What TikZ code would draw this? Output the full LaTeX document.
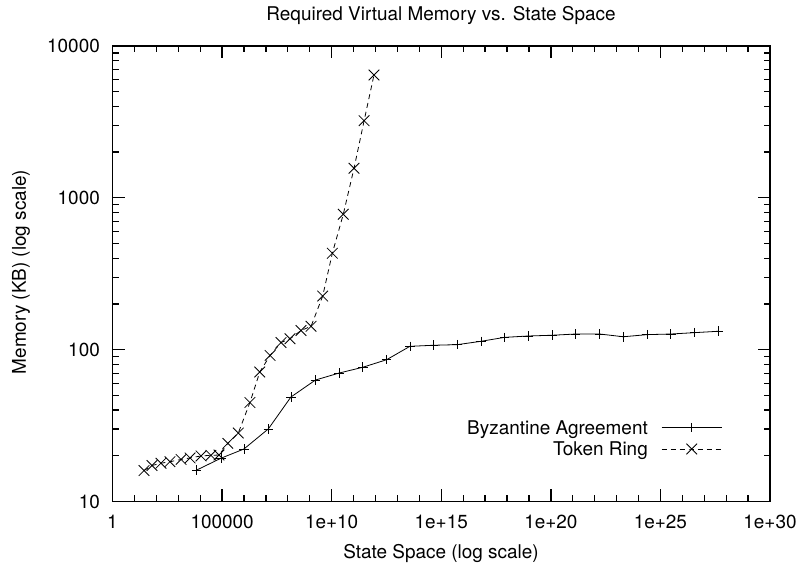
\documentclass[tikz,border=0pt]{standalone}
\usepackage{fontspec}
\setmainfont{TeX Gyre Heros}
\usetikzlibrary{positioning}

\tikzset{
  frame/.style={draw, line width=1.3bp},
  baline/.style={draw, line width=0.8bp, mark=+, mark size=4.8bp},
  trline/.style={draw, line width=0.8bp, dash pattern=on 5bp off 4bp, mark=x, mark size=7.5bp, mark options={solid}},
  ticklabel/.style={inner sep=0pt}
}

\begin{document}
\begin{tikzpicture}[x=1bp, y=1bp, font=\fontsize{19}{23}\selectfont]

        \useasboundingbox (-112.5,-63.5) rectangle (688.5,501.5);

        % plot area: 30 decades across, 10 to 10000 up
        \begin{scope}[x=21.917bp, y=151.83bp, yshift=-151.83bp]

        \foreach \d in {0,...,30} {
          \path[frame] (\d,1) -- ++(0,6bp);
          \path[frame] (\d,4) -- ++(0,-6bp);
        }
        \foreach \d in {0,5,...,30} {
          \path[frame] (\d,1) -- ++(0,12bp);
          \path[frame] (\d,4) -- ++(0,-12bp);
        }
        \foreach \e in {1,2,3} {
          \foreach \k in {2,...,9} {
            \pgfmathsetmacro{\ly}{\e+log10(\k)}
            \path[frame] (0,\ly) -- ++(6bp,0);
            \path[frame] (30,\ly) -- ++(-6bp,0);
          }
        }
        \foreach \e in {1,2,3,4} {
          \path[frame] (0,\e) -- ++(12bp,0);
          \path[frame] (30,\e) -- ++(-12bp,0);
        }

        \path[frame] (0,1) rectangle (30,4);

        \foreach \d/\lab in {0/1, 5/100000, 10/1e+10, 15/1e+15, 20/1e+20, 25/1e+25, 30/1e+30}
          \node[ticklabel, anchor=base] (xt\d) at ([yshift=-26.8bp]\d,1) {\lab};
        \foreach \e/\lab in {1/10, 2/100, 3/1000, 4/10000}
          \node[ticklabel, anchor=east] (yt\e) at ([xshift=-12.5bp]0,\e) {\lab};

        % Byzantine Agreement
        \path[baline] plot coordinates {
          (3.84,1.207) (4.95,1.285) (6.00,1.346) (7.11,1.478) (8.14,1.688)
          (9.26,1.800) (10.34,1.846) (11.42,1.884) (12.51,1.934) (13.57,2.022)
          (14.65,2.029) (15.73,2.033) (16.81,2.055) (17.89,2.081) (18.97,2.090)
          (20.07,2.095) (21.13,2.103) (22.23,2.103) (23.31,2.085) (24.39,2.099)
          (25.47,2.103) (26.55,2.112) (27.63,2.121)};

        % Token Ring
        \path[trline] plot coordinates {
          (1.44,1.204) (1.80,1.237) (2.21,1.252) (2.62,1.262) (3.13,1.277)
          (3.54,1.287) (4.04,1.300) (4.49,1.304) (4.86,1.306) (5.26,1.383)
          (5.74,1.451) (6.27,1.652) (6.72,1.853) (7.19,1.962) (7.69,2.047)
          (8.10,2.072) (8.60,2.126) (9.06,2.154) (9.59,2.353) (10.03,2.635)
          (10.53,2.892) (11.02,3.195) (11.48,3.508) (11.93,3.809)};

        \end{scope}

        \node[inner sep=0pt, anchor=base] (title) at (328.5,480.8) {Required Virtual Memory vs. State Space};
        \node[inner sep=0pt, anchor=base] (xlabel) at (328.5,-56.8) {State Space (log scale)};
        \node[inner sep=0pt, rotate=90] (ylabel) at (-91.5,229.5) {Memory (KB) (log scale)};

        % legend
        \node[inner sep=0pt, anchor=base east] (leg1) at (535.5,66.5) {Byzantine Agreement};
        \node[inner sep=0pt, anchor=base east] (leg2) at (535.5,45.8) {Token Ring};
        \path[baline, mark indices={2}] plot coordinates {(549.2,73.8) (579.2,73.8) (609.2,73.8)};
        \path[trline, mark indices={2}] plot coordinates {(549.2,52.5) (579.2,52.5) (609.2,52.5)};

\end{tikzpicture}
\end{document}
